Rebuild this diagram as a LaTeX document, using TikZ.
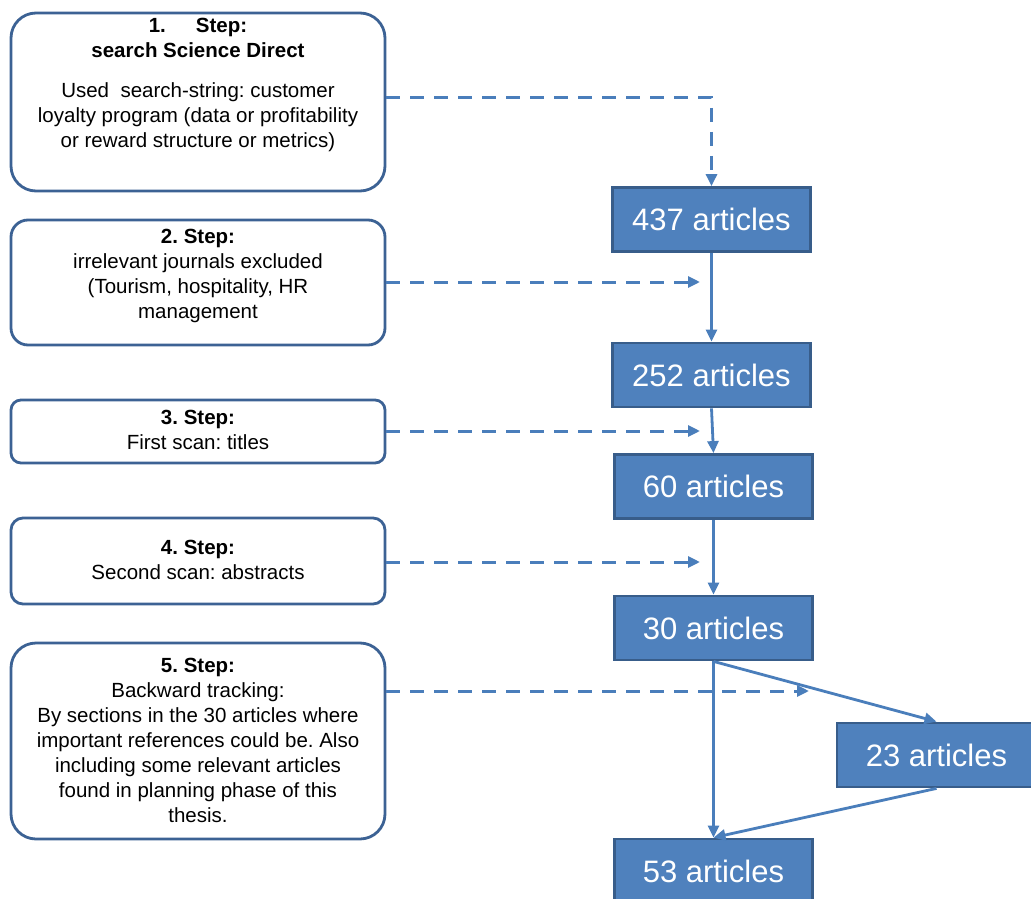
\documentclass[tikz,border=0pt]{standalone}
\usepackage{fontspec}
\setmainfont{Liberation Sans}
\frenchspacing
\usetikzlibrary{arrows.meta}
\definecolor{stepline}{RGB}{60,98,148}
\definecolor{countfill}{RGB}{79,129,189}
\definecolor{countline}{RGB}{56,93,138}
\definecolor{flow}{RGB}{74,126,187}
\begin{document}
\begin{tikzpicture}[x=1pt,y=-1pt,
  stepbox/.style={draw=stepline, line width=2.8pt, fill=white,
    minimum width=374pt, inner sep=0pt},
  steptext/.style={align=center, font=\fontsize{20.5}{25}\selectfont,
    inner sep=0pt, anchor=north},
  countbox/.style={draw=countline, line width=2.8pt, fill=countfill,
    minimum width=198pt, minimum height=64pt, inner sep=0pt, text=white,
    font=\fontsize{31}{36}\selectfont},
  feed/.style={draw=flow, line width=3pt, dash pattern=on 14pt off 10pt,
    -{Triangle[length=12pt,width=11pt]}},
  pass/.style={draw=flow, line width=2.8pt,
    -{Triangle[length=12pt,width=11pt]}}]
\clip (0,0) rectangle (1031,899);
\fill[white] (0,0) rectangle (1031,899);

% step boxes on the left
\node[stepbox, minimum height=178pt, rounded corners=25pt] (b1) at (198,102) {};
\node[stepbox, minimum height=125pt, rounded corners=17pt] (b2) at (198,282.5) {};
\node[stepbox, minimum height=63pt, rounded corners=10pt] (b3) at (198,431.5) {};
\node[stepbox, minimum height=86pt, rounded corners=12pt] (b4) at (198,561) {};
\node[stepbox, minimum height=196pt, rounded corners=25pt] (b5) at (198,741) {};

\node[steptext] (t1) at (198,18) {\textbf{1.\hspace{30pt}Step:}\\
  \textbf{search Science Direct}\\[15pt]
  Used\ \ search-string: customer\\
  loyalty program (data or profitability\\
  or reward structure or metrics)};
\node[steptext] (t2) at (198,229) {\textbf{2. Step:}\\
  irrelevant journals excluded\\
  (Tourism, hospitality, HR\\
  management};
\node[steptext] (t3) at (198,410) {\textbf{3. Step:}\\ First scan: titles};
\node[steptext] (t4) at (198,540) {\textbf{4. Step:}\\ Second scan: abstracts};
\node[steptext] (t5) at (198,658) {\textbf{5. Step:}\\
  Backward tracking:\\
  By sections in the 30 articles where\\
  important references could be. Also\\
  including some relevant articles\\
  found in planning phase of this\\
  thesis.};

% article counts on the right
\node[countbox] (r437) at (711.5,219.5) {437 articles};
\node[countbox] (r252) at (711.5,375) {252 articles};
\node[countbox] (r60) at (713.5,486.5) {60 articles};
\node[countbox] (r30) at (713.5,628) {30 articles};
\node[countbox, minimum width=199pt] (r23) at (936.5,755) {23 articles};
\node[countbox] (r53) at (713.5,871) {53 articles};

% ends of the dashed feeds
\coordinate (k1) at (711.5,97);
\coordinate (d2) at (700,282);
\coordinate (d3) at (700,431);
\coordinate (d4) at (700,562);
\coordinate (d5) at (809,691);

\draw[feed] (b1.east |- k1) -- (k1) -- (r437.north);
\draw[feed] (b2.east |- d2) -- (d2);
\draw[feed] (b3.east |- d3) -- (d3);
\draw[feed] (b4.east |- d4) -- (d4);
\draw[feed] (b5.east |- d5) -- (d5);

% flow of articles
\draw[pass] (r437.south) -- (r252.north);
\draw[pass] (r252.south) -- (r60.north);
\draw[pass] (r60.south) -- (r30.north);
\draw[pass] (r30.south) -- (r53.north);
\draw[pass] (r30.south) -- (r23.north);
\draw[pass] (r23.south) -- (r53.north);
\end{tikzpicture}
\end{document}
